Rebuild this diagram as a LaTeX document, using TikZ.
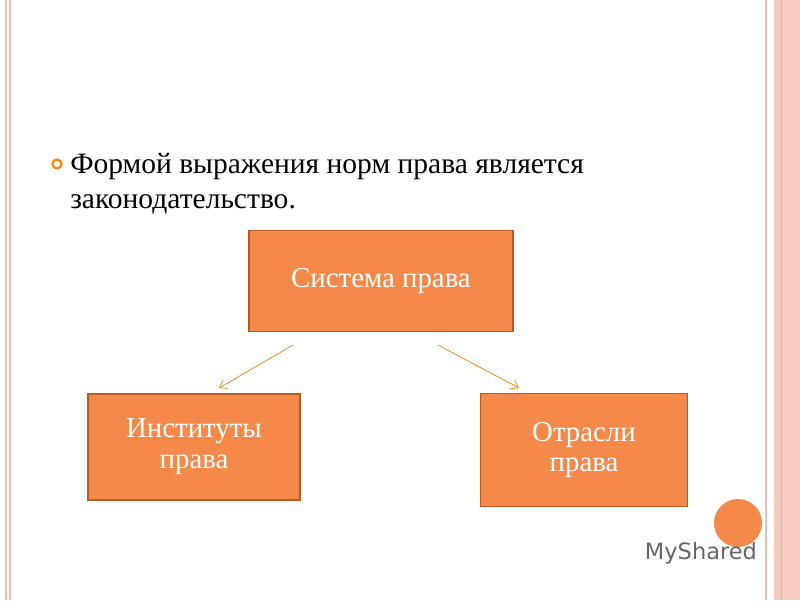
\documentclass[tikz,border=0pt]{standalone}
\usepackage{fontspec}
\setmainfont{Liberation Serif}
\setsansfont{DejaVu Sans}
\usetikzlibrary{arrows.meta}
\begin{document}
\begin{tikzpicture}[x=0.025cm,y=-0.025cm]
    \tikzset{
        box/.style={draw=boxedge, line width=1.4pt, fill=boxorange, font=\fontsize{20.5}{22}\selectfont, text=white, align=center},
        link/.style={draw=orange!80!brown, -{Straight Barb[length=5pt,width=7pt]}, line width=0.5pt}
    }
    \definecolor{boxorange}{HTML}{F5894A}
    \definecolor{boxedge}{HTML}{B65A26}
    \definecolor{frame}{HTML}{F2BFAE}
    \useasboundingbox (0,0) rectangle (800,600);
    \fill[white] (0,0) rectangle (800,600);
    % frame
    \draw[frame, line width=1.2pt] (6,0) -- (6,600);
    \draw[frame, line width=0.8pt] (10,0) -- (10,600);
    \draw[frame, line width=1.2pt] (766,0) -- (766,600);
    \fill[frame!80] (774,0) rectangle (800,600);
    \draw[orange!60!brown!60, line width=0.6pt] (781,0) -- (781,600);
    % heading
    \draw[orange, line width=1.5pt] (57,164) circle (4.5);
    \node[anchor=north west, align=left, font=\fontsize{21}{25}\selectfont, inner sep=0] (head) at (70,153)
        {Формой выражения норм права является\\законодательство.};
    % boxes
    \node[box, minimum width=264*0.025cm, minimum height=101*0.025cm] (sys) at (381,281) {Система права};
    \node[box, minimum width=212*0.025cm, minimum height=106*0.025cm] (inst) at (194,447) {Институты\\права};
    \node[box, minimum width=207*0.025cm, minimum height=113*0.025cm] (otr) at (584,450) {Отрасли\\права};
    \coordinate (a1) at (293,345);
    \coordinate (a2) at (438,345);
    \coordinate (b1) at (219,388);
    \coordinate (b2) at (519,388);
    \draw[link] (a1) -- (b1);
    \draw[link] (a2) -- (b2);
    % watermark
    \fill[boxorange] (738,523) circle (24);
    \node[anchor=west, text=gray!80!black, font=\sffamily\fontsize{16}{18}\selectfont] (logo) at (640,553) {MyShared};
\end{tikzpicture}
\end{document}
